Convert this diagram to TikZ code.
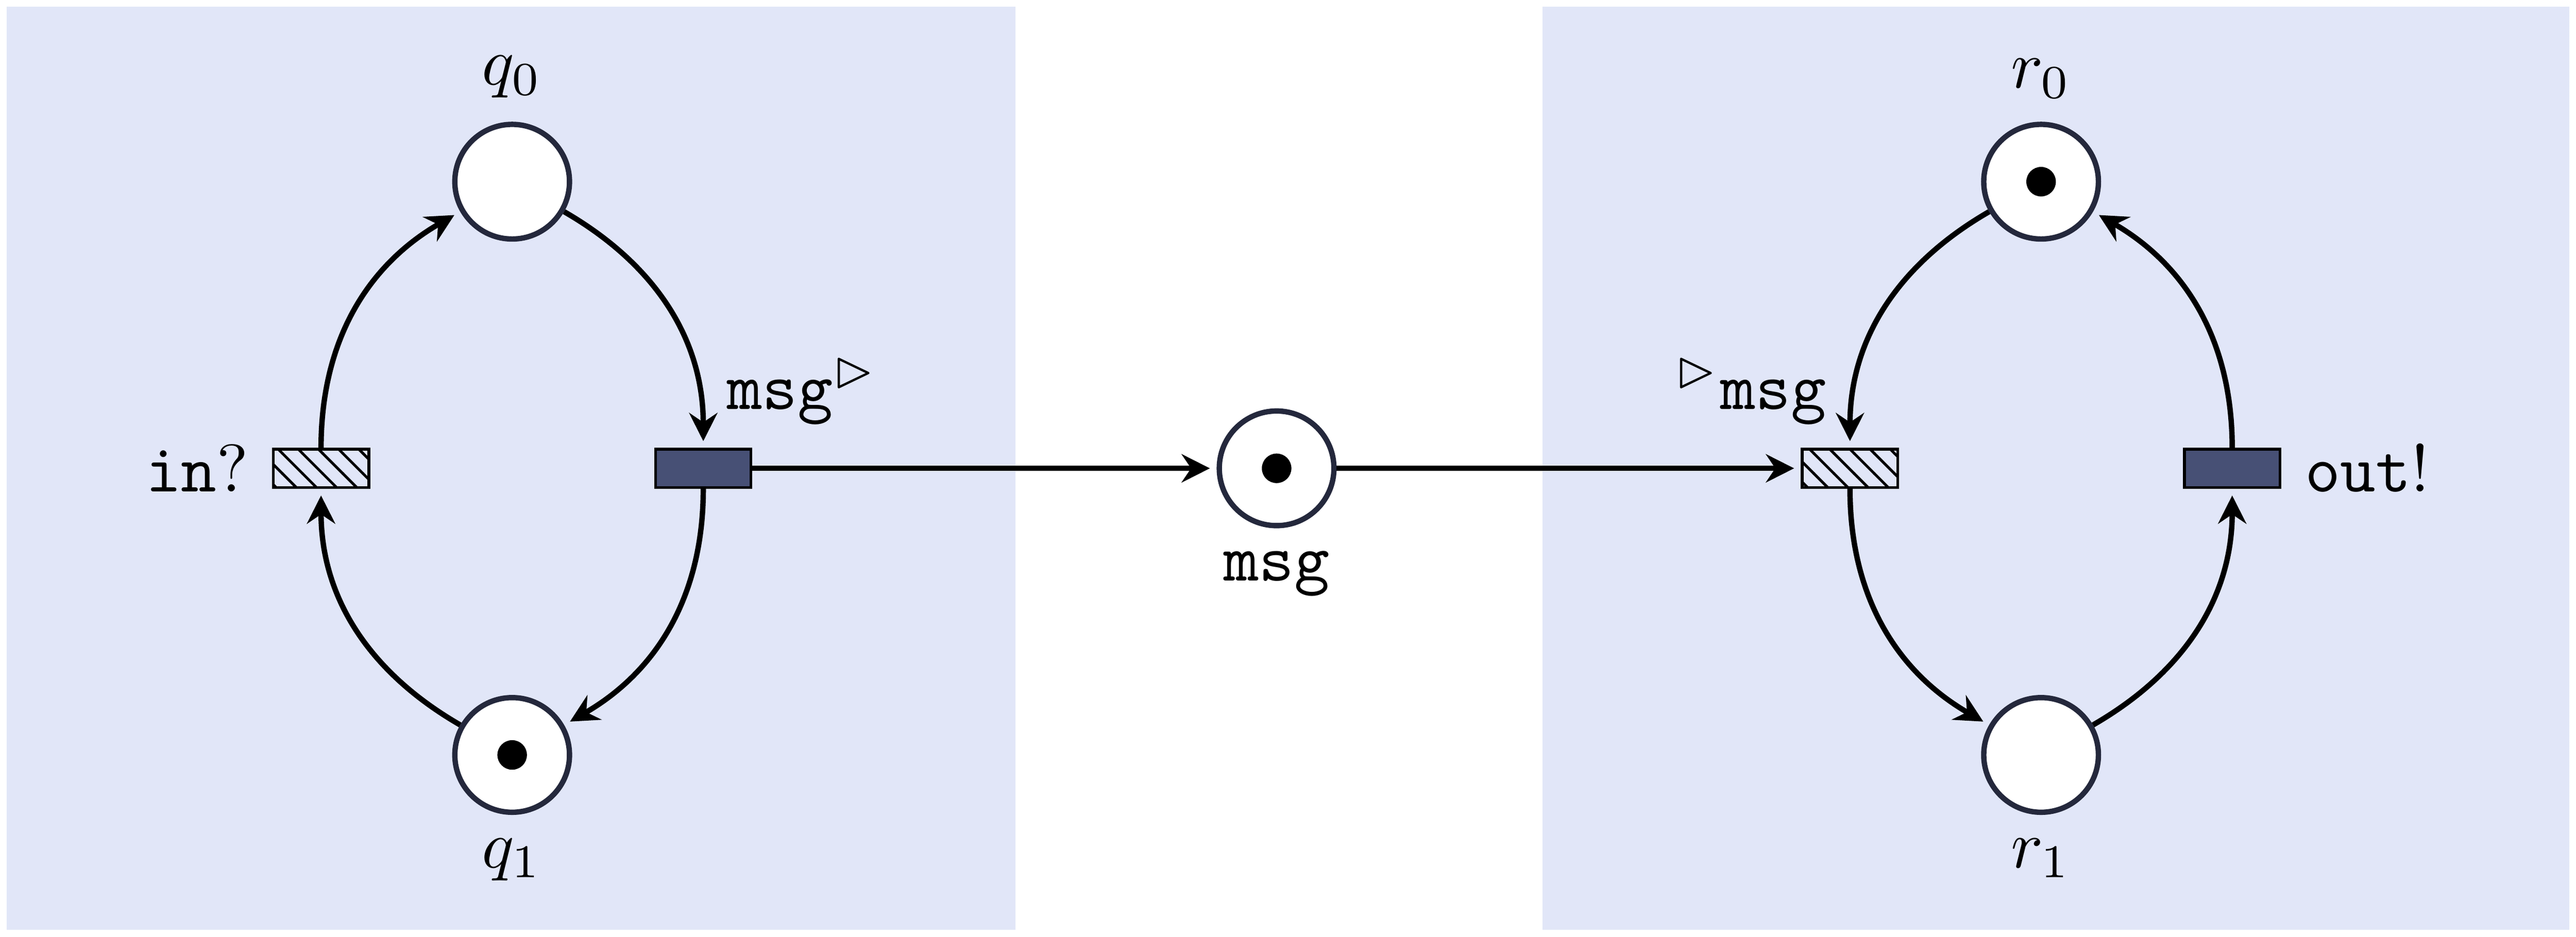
\documentclass[tikz,border=0pt]{standalone}
\usepackage{amsmath,amssymb}
\usepackage{xcolor}
\usepackage{tikz}
\usetikzlibrary{arrows.meta, positioning, patterns}

\definecolor{panelblue}{RGB}{225,230,248}
\definecolor{trfill}{RGB}{71,80,117}
\definecolor{plline}{RGB}{36,40,60}

\begin{document}
\begin{tikzpicture}[
    on grid,
    node distance=1cm,
    pl/.style={circle, draw=plline, thick, fill=white, inner sep=0pt, minimum size=0.6cm},
    tok/.style={circle, fill=black, inner sep=0pt, minimum size=4.4pt},
    tr/.style={rectangle, draw, inner sep=0pt, minimum width=0.5cm, minimum height=0.2cm},
    sendtr/.style={tr, fill=trfill},
    recvtr/.style={tr, pattern=north west lines},
    panel/.style={fill=panelblue},
    arc/.style={->, thick, shorten >=1pt},
    >={Stealth[length=4.2pt, width=4.2pt, inset=1.4pt]}
]
\useasboundingbox (-6.680,-2.451) rectangle (6.799,2.451);

% Panels
\fill[panel] (-6.646,-2.416) rectangle (-1.367,2.416);
\fill[panel] (1.390,-2.416) rectangle (6.765,2.416);

% Channel
\node[pl, label=below:$\mathtt{msg}$] (msg) at (0,0) {};
\node[tok] (msgtok) at (msg.center) {};

% Sender
\node[sendtr, left=3cm of msg, label={[anchor=south west]north:$\mathtt{msg}^{\vartriangleright}$}] (msgout) {};
\node[recvtr, left=2cm of msgout, label=left:$\mathtt{in}?$] (inq) {};
\node[pl, above left=1.5cm and 1cm of msgout, label=above:$q_0$] (q0) {};
\node[pl, below left=1.5cm and 1cm of msgout, label=below:$q_1$] (q1) {};
\node[tok] (q1tok) at (q1.center) {};

% Receiver
\node[recvtr, right=3cm of msg, label={[anchor=south east]north:${}^{\vartriangleright}\mathtt{msg}$}] (msgin) {};
\node[sendtr, right=2cm of msgin, label=right:$\mathtt{out}!$] (outx) {};
\node[pl, above right=1.5cm and 1cm of msgin, label=above:$r_0$] (r0) {};
\node[pl, below right=1.5cm and 1cm of msgin, label=below:$r_1$] (r1) {};
\node[tok] (r0tok) at (r0.center) {};

% Arcs
\draw[arc] (inq) to[out=90, in=210] (q0);
\draw[arc] (q0) to[out=-30, in=90] (msgout);
\draw[arc] (msgout) to[out=-90, in=30] (q1);
\draw[arc] (q1) to[out=150, in=-90] (inq);
\draw[arc] (msgout) -- (msg);
\draw[arc] (msg) -- (msgin);
\draw[arc] (r0) to[out=210, in=90] (msgin);
\draw[arc] (msgin) to[out=-90, in=150] (r1);
\draw[arc] (r1) to[out=30, in=-90] (outx);
\draw[arc] (outx) to[out=90, in=-30] (r0);

\end{tikzpicture}
\end{document}
